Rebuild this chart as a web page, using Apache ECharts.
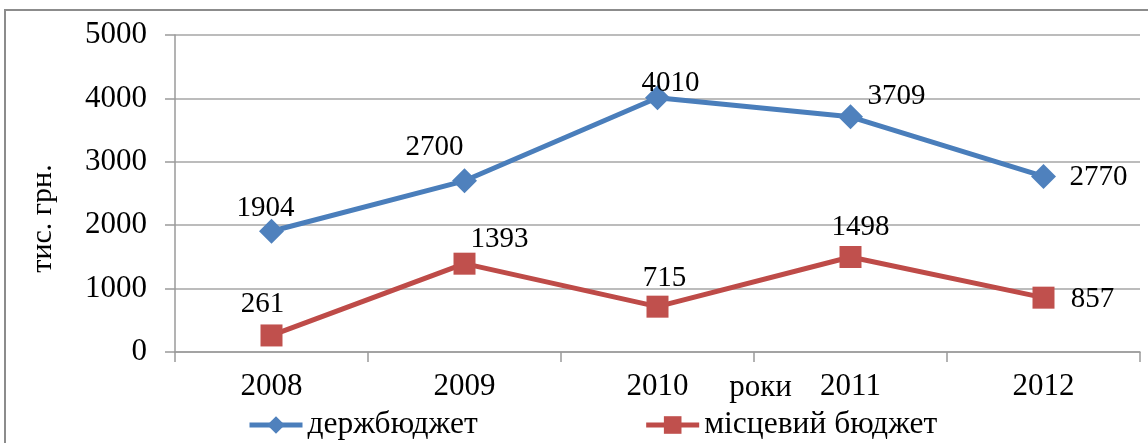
<!DOCTYPE html>
<html><head><meta charset="utf-8">
<script src="https://cdn.jsdelivr.net/npm/echarts@6/dist/echarts.min.js"></script>
<style>
html,body{margin:0;padding:0;background:#fff;overflow:hidden;}
#frame{position:absolute;left:4px;top:9px;width:1200px;height:500px;border-left:2px solid #8c8c8c;border-top:2px solid #8c8c8c;}
#c{position:absolute;left:0;top:0;width:1148px;height:443px;}
</style></head>
<body>
<div id="frame"></div>
<div id="c"></div>
<script>
const years = ['2008','2009','2010','2011','2012'];
const stateBudget = [1904, 2700, 4010, 3709, 2770];
const localBudget = [261, 1393, 715, 1498, 857];
const seriesNames = ['держбюджет', 'місцевий бюджет'];
const yTicks = [0, 1000, 2000, 3000, 4000, 5000];

// label offsets (style only)
const blueOff = [[-6,-23],[-30,-33],[13,-14],[46,-20],[55,1]];
const redOff = [[-9,-31],[35,-24],[7,-28],[10,-30],[49,2]];

function mk(vals, offs){
  return vals.map((v,i)=>({value:v, label:{offset:offs[i]}}));
}
const font = '"Liberation Serif","Times New Roman",serif';
const chart = echarts.init(document.getElementById('c'));
chart.setOption({
  animation:false,
  grid:{left:175,right:8,top:35,bottom:91,containLabel:false},
  legend:{
    left:247, top:409, padding:0,
    itemWidth:53, itemHeight:22, itemGap:166,
    lineStyle:{width:5},
    textStyle:{fontFamily:font,fontSize:31.5,color:'#000'},
    data:seriesNames
  },
  xAxis:{
    type:'category', data:years, boundaryGap:true,
    name:'роки', nameLocation:'middle', nameGap:20, nameMoveOverlap:false,
    nameTextStyle:{fontFamily:font,fontSize:31,color:'#000',padding:[0,0,0,206]},
    axisLine:{lineStyle:{color:'#9a9a9a',width:1.5}},
    axisTick:{show:true,length:10,lineStyle:{color:'#9a9a9a',width:1.5}},
    axisLabel:{fontFamily:font,fontSize:31,color:'#000',margin:19}
  },
  yAxis:{
    type:'value', min:yTicks[0], max:yTicks[yTicks.length-1], interval:1000,
    name:'тис. грн.', nameLocation:'middle', nameRotate:90, nameGap:117,
    nameTextStyle:{fontFamily:font,fontSize:30,color:'#000',padding:[0,50,0,0]},
    axisLine:{show:true,lineStyle:{color:'#9a9a9a',width:1.5}},
    axisTick:{show:true,length:10,lineStyle:{color:'#9a9a9a',width:1.5}},
    axisLabel:{fontFamily:font,fontSize:31,color:'#000',margin:28,formatter:v=>String(v)},
    splitLine:{lineStyle:{color:'#a6a6a6',width:1.5}}
  },
  series:[
    {
      name:seriesNames[0], type:'line', data:mk(stateBudget, blueOff),
      symbol:'diamond', symbolSize:25,
      lineStyle:{color:'#4A7EBB',width:5},
      itemStyle:{color:'#4F81BD'},
      label:{show:true,position:'inside',fontFamily:font,fontSize:29,color:'#000'}
    },
    {
      name:seriesNames[1], type:'line', data:mk(localBudget, redOff),
      symbol:'rect', symbolSize:22,
      lineStyle:{color:'#BE4B48',width:5},
      itemStyle:{color:'#C0504D'},
      label:{show:true,position:'inside',fontFamily:font,fontSize:29,color:'#000'}
    }
  ]
});
</script>
</body></html>
